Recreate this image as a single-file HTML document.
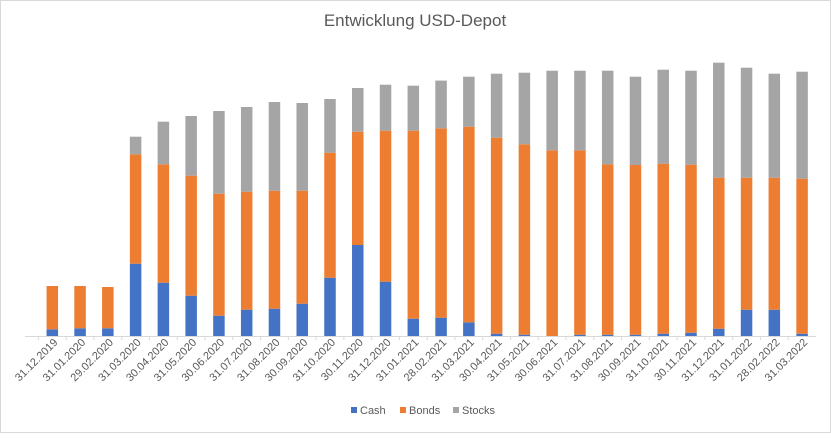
<!DOCTYPE html>
<html><head><meta charset="utf-8"><style>
body{margin:0;background:#fff;font-family:"Liberation Sans",sans-serif}
</style></head><body>
<svg id="c" width="831" height="433" xmlns="http://www.w3.org/2000/svg">
<rect x="0.5" y="0.5" width="830" height="432" fill="#fff" stroke="#d9d9d9"/>
<text x="415" y="26" text-anchor="middle" font-size="17" fill="#595959" font-family="Liberation Sans, sans-serif">Entwicklung USD-Depot</text>
<g id="bars"></g>
<line x1="25" y1="336.5" x2="816" y2="336.5" stroke="#d9d9d9"/>
<g id="ticks"></g>
<g font-size="11" fill="#595959">
<rect x="351" y="407" width="6" height="6" fill="#4472c4"/>
<text x="360" y="414">Cash</text>
<rect x="400" y="407" width="6" height="6" fill="#ed7d31"/>
<text x="409" y="414">Bonds</text>
<rect x="453" y="407" width="6" height="6" fill="#a5a5a5"/>
<text x="462" y="414">Stocks</text>
</g>
</svg>
<script>
const categories=["31.12.2019","31.01.2020","29.02.2020","31.03.2020","30.04.2020","31.05.2020","30.06.2020","31.07.2020","31.08.2020","30.09.2020","31.10.2020","30.11.2020","31.12.2020","31.01.2021","28.02.2021","31.03.2021","30.04.2021","31.05.2021","30.06.2021","31.07.2021","31.08.2021","30.09.2021","31.10.2021","30.11.2021","31.12.2021","31.01.2022","28.02.2022","31.03.2022"];
const cash=[6.7,7.7,7.7,72.3,53.3,40.3,20.3,26.3,27.3,32.3,58.3,91,54.3,17.3,18.3,13.7,2.3,1.3,0,1.3,1.3,1.3,2.3,3.3,7.3,26.3,26.3,2.3];
const bonds=[43.3,42.3,41.3,109.4,118.4,120,122,118,118,113,125,113.3,151,188,189.4,195.6,196,190.4,185.7,184.4,170.4,169.7,170,168,151,132,132,155];
const stocks=[0,0,0,17.6,42.6,59.7,82.7,84.7,88.7,87.7,53.7,43.7,46,45,47.7,50,64,71.6,79.6,79.6,93.6,88.3,94,94,115,110,104,107];
const NS="http://www.w3.org/2000/svg";
const base=336, x0=52.3, step=27.77, bw=11.5;
const xs=i=>x0+i*step, ys=v=>v*1;
const bars=document.getElementById('bars'), ticks=document.getElementById('ticks');
const series=[["cash",cash,"#4472c4"],["bonds",bonds,"#ed7d31"],["stocks",stocks,"#a5a5a5"]];
categories.forEach((c,i)=>{
  let acc=0;
  series.forEach(([n,arr,col])=>{
    const h=ys(arr[i]);
    if(h>0){
      const r=document.createElementNS(NS,'rect');
      
      
      r.setAttribute('x',xs(i)-bw/2);r.setAttribute('y',base-acc-h);
      r.setAttribute('width',bw);r.setAttribute('height',h);r.setAttribute('fill',col);
      bars.appendChild(r);
    }
    acc+=h;
  });
  const t=document.createElementNS(NS,'text');
  
  
  const tx=xs(i)+6, ty=base+7;
  t.setAttribute('x',tx);t.setAttribute('y',ty);
  t.setAttribute('text-anchor','end');t.setAttribute('font-size','11');t.setAttribute('fill','#595959');
  t.setAttribute('transform','rotate(-45 '+tx+' '+ty+')');
  t.textContent=c;ticks.appendChild(t);
  const tk=document.createElementNS(NS,'line');
  
  
  const lx=xs(i)-step/2;
  tk.setAttribute('x1',lx);tk.setAttribute('x2',lx);tk.setAttribute('y1',base);tk.setAttribute('y2',base+4);tk.setAttribute('stroke','#d9d9d9');
  ticks.appendChild(tk);
});
</script>
</body></html>
